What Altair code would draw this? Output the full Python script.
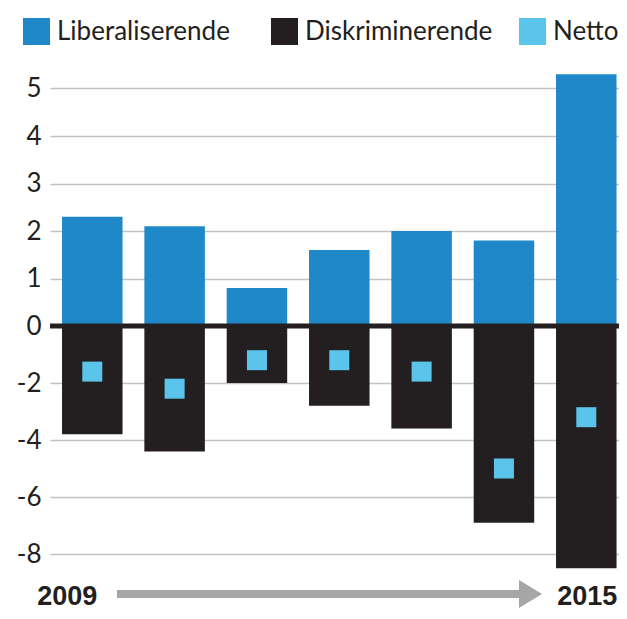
import altair as alt
import pandas as pd

years = ["2009", "2010", "2011", "2012", "2013", "2014", "2015"]
liberaliserende = [2.3, 2.1, 0.8, 1.6, 2.0, 1.8, 5.3]
diskriminerende = [-3.8, -4.4, -2.0, -2.8, -3.6, -6.9, -8.5]
netto = [-1.6, -2.2, -1.2, -1.2, -1.6, -5.0, -3.2]
series_names = ["Liberaliserende", "Diskriminerende", "Netto"]
series_colors = ["#1e88c9", "#231f20", "#5bc4ea"]
y_ticks = [-8, -6, -4, -2, 0, 1, 2, 3, 4, 5]
end_labels = ["2009", "2015"]

rows = []
for i, yr in enumerate(years):
    rows.append({"year": yr, "series": series_names[0], "value": liberaliserende[i]})
    rows.append({"year": yr, "series": series_names[1], "value": diskriminerende[i]})
    rows.append({"year": yr, "series": series_names[2], "value": netto[i]})
df = pd.DataFrame(rows)

W, H = 569, 520
ZERO_PX = 266

y_scale = alt.Scale(domain=[-8.912, 0, 5.6], range=[H, ZERO_PX, 0], zero=False, nice=False)
x_scale = alt.Scale(paddingInner=0.265, paddingOuter=0.088, align=0.83)

color = alt.Color(
    "series:N",
    scale=alt.Scale(domain=series_names, range=series_colors),
    legend=alt.Legend(
        title=None, orient="none", legendX=-27, legendY=-42,
        direction="horizontal", columns=3, gridAlign="all",
        symbolType="square", symbolSize=729, symbolStrokeWidth=0,
        symbolOpacity=1,
        labelFont="Lato", labelFontSize=26, labelColor="#231f20",
        labelOffset=7, columnPadding=26, padding=0, labelLimit=400,
    ),
)

y_axis = alt.Axis(
    values=y_ticks, title=None, domain=False, ticks=False,
    labelExpr="toString(datum.value)",
    labelFont="Lato", labelFontSize=26, labelColor="#231f20", labelPadding=9,
    gridColor="#c2c2c2", gridWidth=1.5,
)

base = alt.Chart(df)

bars = base.transform_filter("datum.series != 'Netto'").mark_bar().encode(
    x=alt.X("year:N", scale=x_scale, axis=None),
    y=alt.Y("value:Q", scale=y_scale, axis=y_axis, stack=None),
    color=color,
)

points = base.transform_filter("datum.series == 'Netto'").mark_point(
    shape="square", filled=True, size=400, opacity=1
).encode(
    x=alt.X("year:N", scale=x_scale, axis=None),
    y=alt.Y("value:Q", scale=y_scale),
    color=color,
)

zero_rule = alt.Chart(pd.DataFrame({"v": [0]})).mark_rule(
    color="#231f20", strokeWidth=5
).encode(y=alt.Y("v:Q", scale=y_scale))

start_text = alt.Chart(pd.DataFrame({"year": [end_labels[0]]})).mark_text(
    font="Liberation Sans", fontWeight="bold", fontSize=27, dx=-25,
    baseline="alphabetic", align="center", color="#231f20"
).encode(x=alt.X("year:N", scale=x_scale, axis=None), y=alt.value(545), text="year:N")

end_text = alt.Chart(pd.DataFrame({"year": [end_labels[1]]})).mark_text(
    font="Liberation Sans", fontWeight="bold", fontSize=27, dx=1,
    baseline="alphabetic", align="center", color="#231f20"
).encode(x=alt.X("year:N", scale=x_scale, axis=None), y=alt.value(545), text="year:N")

arrow_df = pd.DataFrame({"a": [0]})
arrow_line = alt.Chart(arrow_df).mark_rule(color="#a6a6a6", strokeWidth=8).encode(
    x=alt.value(67), x2=alt.value(472), y=alt.value(534)
)
arrow_head = alt.Chart(arrow_df).mark_point(
    shape="M-0.82,-1L0.82,0L-0.82,1Z", filled=True, size=784, color="#a6a6a6", opacity=1
).encode(x=alt.value(480.5), y=alt.value(534))

chart = alt.layer(
    bars, points, zero_rule, start_text, end_text, arrow_line, arrow_head
).properties(
    width=W, height=H,
    autosize=alt.AutoSizeParams(type="none"),
    padding={"left": 42, "top": 52, "right": 0, "bottom": 31},
    background="white",
).configure_view(stroke=None)

chart.save("out.html", embed_options={"renderer": "svg", "actions": False})
